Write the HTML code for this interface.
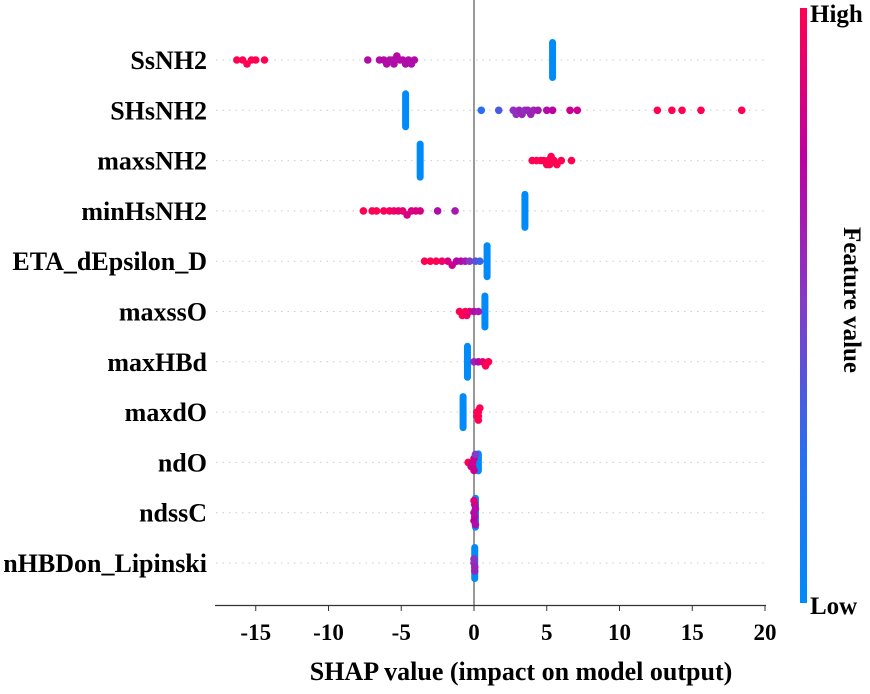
<!DOCTYPE html>
<html><head><meta charset="utf-8"><style>
body{margin:0;background:#fff}
svg text{font-family:"Liberation Serif",serif;font-weight:bold;fill:#000}
</style></head><body>
<svg id="c" width="870" height="689">
<defs><linearGradient id="cg" x1="0" y1="1" x2="0" y2="0">
<stop offset="0" stop-color="rgb(0,138,250)"/><stop offset="0.25" stop-color="rgb(40,110,240)"/>
<stop offset="0.5" stop-color="rgb(130,60,200)"/><stop offset="0.75" stop-color="rgb(190,0,160)"/>
<stop offset="1" stop-color="rgb(255,0,82)"/></linearGradient></defs>
<g id="grid"></g><g id="marks"></g><g id="axes"></g>
<rect x="800" y="8" width="7" height="595" fill="url(#cg)"/>
<text x="810" y="22" font-size="25">High</text>
<text x="810" y="614" font-size="25">Low</text>
<text transform="translate(844,300) rotate(90)" text-anchor="middle" font-size="25">Feature value</text>
<text x="521" y="680" text-anchor="middle" font-size="26">SHAP value (impact on model output)</text>
</svg>
<script>
const features=["SsNH2","SHsNH2","maxsNH2","minHsNH2","ETA_dEpsilon_D","maxssO","maxHBd","maxdO","ndO","ndssC","nHBDon_Lipinski"];
const lowBar=[5.4,-4.7,-3.7,3.5,0.9,0.75,-0.45,-0.75,0.3,0.1,0.05];
const lowBarSpan=[42,40,40,40,38,38,38,38,24,36,38];
const dotValues=[
[-16.3,-15.9,-15.6,-15.3,-15.0,-14.4,-7.3,-6.5,-6.2,-6.0,-5.8,-5.6,-5.5,-5.3,-5.1,-4.9,-4.7,-4.5,-4.3,-4.1],
[0.5,1.7,2.7,2.9,3.1,3.3,3.5,3.7,3.9,4.1,4.4,5.0,5.4,6.6,7.1,12.6,13.6,14.3,15.6,18.4],
[4.0,4.3,4.6,4.8,5.0,5.1,5.2,5.3,5.5,5.7,6.0,6.7],
[-7.6,-7.0,-6.7,-6.2,-5.8,-5.5,-5.2,-4.9,-4.6,-4.3,-4.0,-3.7,-2.5,-1.3],
[-3.4,-3.0,-2.6,-2.2,-1.8,-1.5,-1.2,-0.9,-0.6,-0.3,0.1,0.4],
[-1.0,-0.8,-0.6,-0.5,-0.3,0.0,0.3],
[0.0,0.3,0.6,0.8,1.0],
[0.2,0.3,0.3,0.4,0.3,0.2],
[-0.4,-0.1,-0.1,0.0,-0.2,0.0,0.1],
[0.0,0.05,0.1,0.0,0.05,0.1,0.0],
[0.0,0.05,0.0,0.05]];
const dotColors=[
[1,1,1,1,1,1,0.7,0.7,0.72,0.7,0.7,0.68,0.7,0.72,0.7,0.7,0.68,0.7,0.68,0.7],
[0.25,0.35,0.55,0.55,0.6,0.6,0.55,0.6,0.6,0.6,0.65,0.7,0.75,0.8,0.8,1,1,1,1,1],
[1,1,1,1,1,1,1,1,1,1,1,1],
[1,1,1,1,0.95,0.95,0.9,0.9,0.85,0.85,0.85,0.85,0.7,0.65],
[1,1,1,0.95,0.85,0.8,0.75,0.7,0.65,0.5,0.4,0.3],
[1,1,1,0.95,0.9,0.7,0.65],
[0.6,0.7,0.9,1,1],
[1,1,1,1,1,1],
[1,0.8,0.8,0.8,0.8,0.8,0.5],
[0.7,0.7,0.7,0.75,0.7,0.7,0.9],
[0.55,0.6,0.55,0.6]];
const xTicks=[-15,-10,-5,0,5,10,15,20];
const X0=474, PX=14.55, Y0=60, DY=50.3;
const xs=v=>X0+v*PX, ys=i=>Y0+i*DY;
const NS="http://www.w3.org/2000/svg";
function mk(t,a,p){const e=document.createElementNS(NS,t);for(const k in a)e.setAttribute(k,a[k]);p.appendChild(e);return e;}
function col(t){const st=[[0,[0,138,250]],[0.25,[40,110,240]],[0.5,[130,60,200]],[0.75,[190,0,160]],[1,[255,0,82]]];
for(let i=1;i<st.length;i++){if(t<=st[i][0]){const a=st[i-1],b=st[i],f=(t-a[0])/(b[0]-a[0]);return "rgb("+a[1].map((c,j)=>Math.round(c+(b[1][j]-c)*f)).join(",")+")";}}return "rgb(255,0,82)";}
const grid=document.getElementById('grid'),marks=document.getElementById('marks'),axes=document.getElementById('axes');
features.forEach((f,i)=>{
 const y=ys(i);
 let g=mk('line',{x1:216,x2:765,y1:y,y2:y,stroke:'#ccc','stroke-dasharray':'1.5 5','stroke-width':1},grid);
 
 let t=mk('text',{x:207,y:y+9,'text-anchor':'end','font-size':26},axes);t.textContent=f;
 
});
let zl=mk('line',{x1:xs(0),x2:xs(0),y1:0,y2:605,stroke:'#999','stroke-width':2},grid);

features.forEach((f,i)=>{
 const y=ys(i),h=lowBarSpan[i];
 let b=mk('rect',{x:xs(lowBar[i])-3.5,y:y-h/2,width:7,height:h,rx:3.5,fill:'rgb(0,138,250)'},marks);
 
 const bins={};
 dotValues[i].forEach((v,k)=>{
  const x=xs(v),key=Math.round(x/5);const n=bins[key]||0;bins[key]=n+1;
  const off=n===0?0:(n%2?1:-1)*Math.ceil(n/2)*4;
  let c=mk('circle',{cx:x,cy:y+off,r:3.8,fill:col(dotColors[i][k])},marks);
  
 });
});
let ax=mk('line',{x1:215,x2:766,y1:605.5,y2:605.5,stroke:'#333','stroke-width':1.3},axes);

xTicks.forEach(v=>{
 let tk=mk('line',{x1:xs(v),x2:xs(v),y1:605,y2:611,stroke:'#333'},axes);
 
 let t=mk('text',{x:xs(v),y:640,'text-anchor':'middle','font-size':23},axes);t.textContent=v;
 
});
</script>
</body></html>
